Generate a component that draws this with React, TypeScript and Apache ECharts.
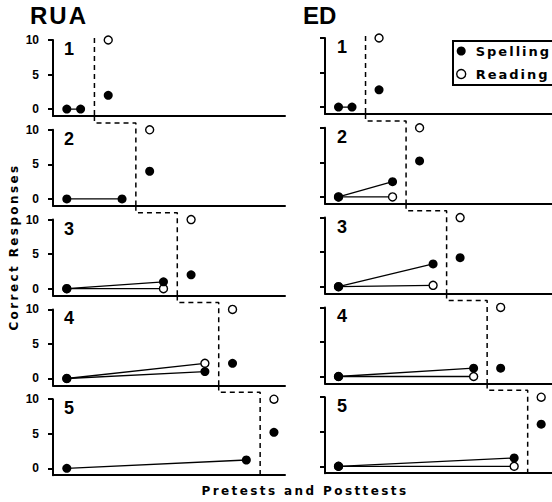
import React, { useEffect, useRef } from "react";
import * as echarts from "echarts";

// ---- data ----
const columnTitles = ["RUA", "ED"];
const panelLabels = ["1", "2", "3", "4", "5"];
const yTickValues = [0, 5, 10];
const firstPretestSession = 1;
const lastPretestSessions = [2, 5, 8, 11, 14];
const phaseChangeSessions = [3, 6, 9, 12, 15];
const posttestSessions = [4, 7, 10, 13, 16];

// RUA
const ruaSpellingFirst = [0, 0, 0, 0, 0];
const ruaSpellingLastPre = [0, 0, 1.0, 1.0, 1.2];
const ruaReadingFirst: (number | null)[] = [null, null, 0, 0, null];
const ruaReadingLastPre: (number | null)[] = [null, null, 0, 2.2, null];
const ruaSpellingPost = [2.0, 4.0, 2.0, 2.2, 5.2];
const ruaReadingPost = [10, 10, 10, 10, 10];

// ED
const edSpellingFirst = [0, 0, 0, 0, 0];
const edSpellingLastPre = [0, 2.2, 3.3, 1.2, 1.2];
const edReadingFirst: (number | null)[] = [null, 0, 0, 0, 0];
const edReadingLastPre: (number | null)[] = [null, 0, 0.2, 0, 0];
const edSpellingPost = [2.5, 5.2, 4.2, 1.2, 6.1];
const edReadingPost = [10, 10, 10, 10, 10];

const legendNames = ["Spelling", "Reading"];
const xAxisName = "Pretests and Posttests";
const yAxisName = "Correct Responses";

// ---- layout / style ----
const Y_MIN = -1;
const Y_MAX = 10;
const X_MAX = 16.8;
const PHASE_TOP_FIRST = 10.3;
const CONNECTOR_LEVEL = 11;
const PREV_AXIS_LEVEL = 12;

const letterSpacing: Record<string, number> = {
  "Pretests and Posttests": 2.4,
  "Correct Responses": 2.4,
  Spelling: 2,
  Reading: 2,
  RUA: 2,
};

const columns = [
  {
    left: 53,
    dy: 0,
    labelX: 64,
    titleX: 30,
    spFirst: ruaSpellingFirst,
    spLast: ruaSpellingLastPre,
    rdFirst: ruaReadingFirst,
    rdLast: ruaReadingLastPre,
    spPost: ruaSpellingPost,
    rdPost: ruaReadingPost,
  },
  {
    left: 325,
    dy: -2,
    labelX: 337,
    titleX: 303,
    spFirst: edSpellingFirst,
    spLast: edSpellingLastPre,
    rdFirst: edReadingFirst,
    rdLast: edReadingLastPre,
    spPost: edSpellingPost,
    rdPost: edReadingPost,
  },
];

const GRID_W = 232;
const GRID_H = 76;
const TOP0 = 40;
const STEP = 89.8;

const spellingStyle = { color: "#000", opacity: 1 };
const readingStyle = { color: "#fff", borderColor: "#000", borderWidth: 1.4, opacity: 1 };

function buildOption() {
  const grid: any[] = [];
  const xAxis: any[] = [];
  const yAxis: any[] = [];
  const series: any[] = [];
  const graphic: any[] = [];
  const title: any[] = [];

  columns.forEach((col, c) => {
    title.push({
      text: columnTitles[c],
      left: col.titleX,
      top: 3,
      padding: 0,
      textStyle: {
        fontFamily: "Liberation Sans",
        fontWeight: "bold",
        fontSize: 24,
        color: "#000",
      },
    });
    for (let k = 0; k < 5; k++) {
      const gi = c * 5 + k;
      const top = TOP0 + k * STEP + col.dy;
      grid.push({ left: col.left, top, width: GRID_W, height: GRID_H });
      xAxis.push({
        gridIndex: gi,
        type: "value",
        min: 0,
        max: X_MAX,
        axisLine: { onZero: false, lineStyle: { color: "#000", width: 2 } },
        axisTick: { show: false },
        axisLabel: { show: false },
        splitLine: { show: false },
      });
      yAxis.push({
        gridIndex: gi,
        type: "value",
        min: Y_MIN,
        max: Y_MAX,
        axisLine: { show: true, onZero: false, lineStyle: { color: "#000", width: 2 } },
        axisTick: {
          show: true,
          customValues: yTickValues,
          length: 5,
          lineStyle: { color: "#000", width: 2 },
        },
        axisLabel: {
          show: c === 0,
          customValues: yTickValues,
          margin: 14,
          color: "#000",
          fontSize: 12,
          fontWeight: "bold",
          fontFamily: "Liberation Sans",
        },
        splitLine: { show: false },
      });

      graphic.push({
        type: "text",
        x: col.labelX,
        y: top,
        style: {
          text: panelLabels[k],
          fontFamily: "Liberation Sans",
          fontWeight: "bold",
          fontSize: 18,
          fill: "#000",
          textAlign: "left",
          textVerticalAlign: "top",
        },
      });

      // phase change (dashed) line
      const d = phaseChangeSessions[k];
      const phasePts =
        k === 0
          ? [
              [d, PHASE_TOP_FIRST],
              [d, Y_MIN],
            ]
          : [
              [phaseChangeSessions[k - 1], PREV_AXIS_LEVEL],
              [phaseChangeSessions[k - 1], CONNECTOR_LEVEL],
              [d, CONNECTOR_LEVEL],
              [d, Y_MIN],
            ];
      series.push({
        type: "line",
        xAxisIndex: gi,
        yAxisIndex: gi,
        data: phasePts,
        symbol: "none",
        clip: false,
        silent: true,
        z: 1,
        lineStyle: { color: "#000", width: 1.5, type: [5, 4] },
      });

      // reading pretest
      const rf = col.rdFirst[k];
      const rl = col.rdLast[k];
      if (rf !== null && rl !== null) {
        series.push({
          type: "line",
          name: "Reading",
          xAxisIndex: gi,
          yAxisIndex: gi,
          data: [
            [firstPretestSession, rf],
            [lastPretestSessions[k], rl],
          ],
          symbol: "circle",
          symbolSize: 8,
          showSymbol: true,
          itemStyle: readingStyle,
          lineStyle: { color: "#000", width: 1.3 },
          silent: true,
          z: 2,
        });
      }
      // spelling pretest
      series.push({
        type: "line",
        name: "Spelling",
        xAxisIndex: gi,
        yAxisIndex: gi,
        data: [
          [firstPretestSession, col.spFirst[k]],
          [lastPretestSessions[k], col.spLast[k]],
        ],
        symbol: "circle",
        symbolSize: 9,
        showSymbol: true,
        itemStyle: spellingStyle,
        lineStyle: { color: "#000", width: 1.3 },
        silent: true,
        z: 3,
      });
      // posttests
      series.push({
        type: "scatter",
        name: "Reading",
        xAxisIndex: gi,
        yAxisIndex: gi,
        data: [[posttestSessions[k], col.rdPost[k]]],
        symbol: "circle",
        symbolSize: 8,
        itemStyle: readingStyle,
        silent: true,
        clip: false,
        z: 2,
      });
      series.push({
        type: "scatter",
        name: "Spelling",
        xAxisIndex: gi,
        yAxisIndex: gi,
        data: [[posttestSessions[k], col.spPost[k]]],
        symbol: "circle",
        symbolSize: 9,
        itemStyle: spellingStyle,
        silent: true,
        clip: false,
        z: 3,
      });
    }
  });

  graphic.push({
    type: "text",
    x: 14,
    y: 247,
    rotation: Math.PI / 2,
    style: {
      text: yAxisName,
      fontFamily: "DejaVu Sans",
      fontWeight: "bold",
      fontSize: 12,
      fill: "#000",
      textAlign: "center",
      textVerticalAlign: "middle",
    },
  });
  graphic.push({
    type: "text",
    x: 305,
    y: 491,
    style: {
      text: xAxisName,
      fontFamily: "DejaVu Sans",
      fontWeight: "bold",
      fontSize: 12,
      fill: "#000",
      textAlign: "center",
      textVerticalAlign: "middle",
    },
  });
  // legend frame
  graphic.push({
    type: "rect",
    shape: { x: 453, y: 41, width: 140, height: 44 },
    style: { fill: "none", stroke: "#000", lineWidth: 2 },
    silent: true,
  });

  return {
    animation: false,
    backgroundColor: "#fff",
    title,
    grid,
    xAxis,
    yAxis,
    series,
    graphic,
    legend: {
      orient: "vertical",
      left: 452,
      top: 41,
      padding: [3, 10, 3, 4],
      itemGap: 9,
      itemWidth: 9,
      itemHeight: 9,
      selectedMode: false,
      data: [
        { name: legendNames[0], icon: "circle", itemStyle: spellingStyle },
        { name: legendNames[1], icon: "circle", itemStyle: readingStyle },
      ],
      textStyle: {
        fontFamily: "DejaVu Sans",
        fontWeight: "bold",
        fontSize: 13,
        lineHeight: 14,
        color: "#000",
        padding: [0, 0, 0, 5],
      },
    },
  };
}

export default function App() {
  const ref = useRef<HTMLDivElement>(null);
  useEffect(() => {
    const el = ref.current!;
    const chart = echarts.init(el, null, { renderer: "svg" });
    chart.setOption(buildOption() as any);
    const applySpacing = () => {
      el.querySelectorAll("text").forEach((t) => {
        const s = letterSpacing[(t.textContent || "").trim()];
        if (s !== undefined) t.setAttribute("letter-spacing", String(s));
      });
    };
    applySpacing();
    chart.on("finished", applySpacing);
    return () => {
      chart.dispose();
    };
  }, []);
  return (
    <div
      ref={ref}
      style={{ position: "fixed", left: 0, top: 0, width: 552, height: 502, background: "#fff" }}
    />
  );
}
